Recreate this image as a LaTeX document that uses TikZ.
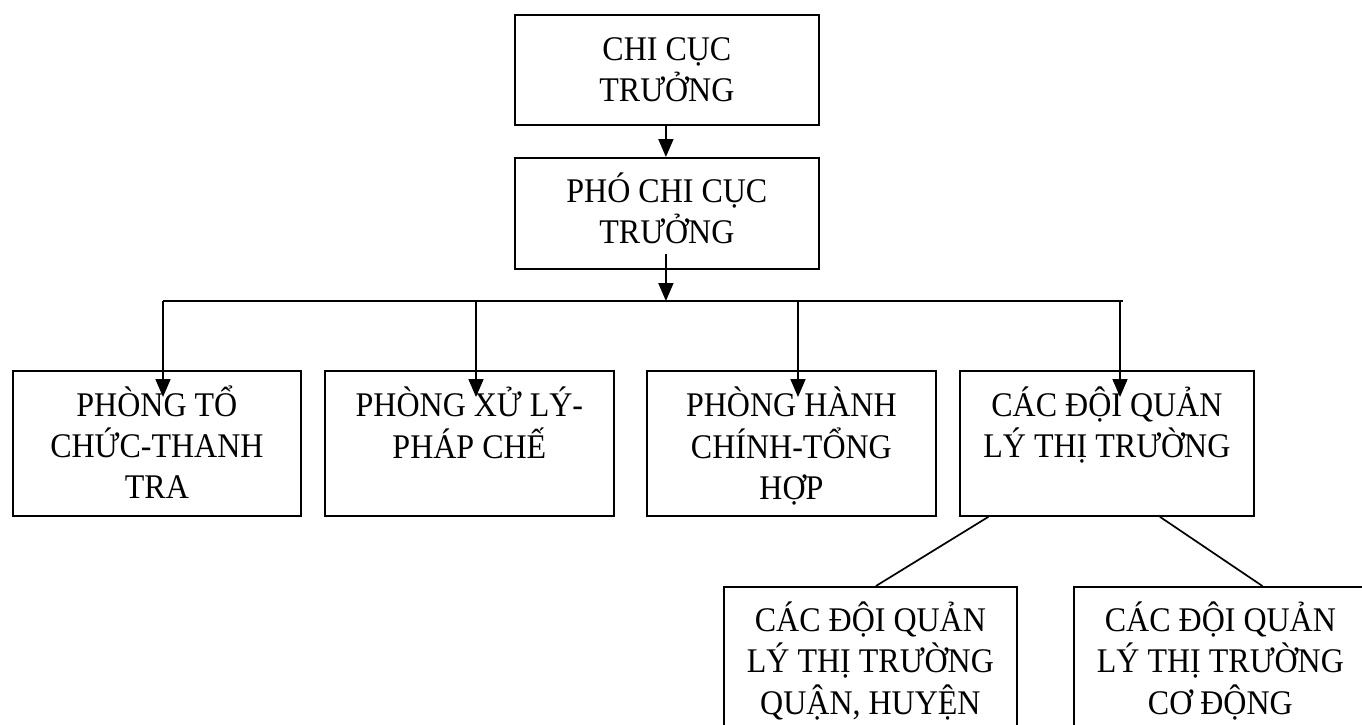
\documentclass[tikz,border=0pt]{standalone}
\usepackage{graphicx}
\usepackage{fontspec}
\setmainfont{Liberation Serif}
\usetikzlibrary{arrows.meta}
\newcommand\vtxt[1]{\scalebox{1}[1.08]{\begin{tabular}[t]{@{}c@{}}#1\end{tabular}}}
\begin{document}
\begin{tikzpicture}[x=1pt,y=1pt,
  orgbox/.style={draw, line width=1.8pt, inner sep=0pt, anchor=north west},
  boxtext/.style={anchor=base, inner sep=0pt,
    font=\fontsize{32}{37.7}\selectfont},
  conn/.style={line width=1.7pt},
  arr/.style={line width=1.7pt, -{Triangle[width=15pt,length=18pt]}}]
\useasboundingbox (0,0) rectangle (1362,-724);
\clip (0,0) rectangle (1362,-724);
% boxes
\node[orgbox, minimum width=304pt, minimum height=110pt] (b1) at (514,-14) {};
\node[orgbox, minimum width=304pt, minimum height=111pt] (b2) at (514,-157) {};
\node[orgbox, minimum width=288pt, minimum height=145pt] (ba) at (12,-370) {};
\node[orgbox, minimum width=289pt, minimum height=145pt] (bb) at (324,-370) {};
\node[orgbox, minimum width=289pt, minimum height=145pt] (bc) at (646,-370) {};
\node[orgbox, minimum width=294pt, minimum height=145pt] (bd) at (959,-370) {};
\node[orgbox, minimum width=293pt, minimum height=180pt] (be) at (723,-586) {};
\node[orgbox, minimum width=293pt, minimum height=180pt] (bf) at (1073,-586) {};
% texts
\node[boxtext] (t1) at ([yshift=-46pt]b1.north) {\vtxt{CHI CỤC\\TRƯỞNG}};
\node[boxtext] (t2) at ([yshift=-45pt]b2.north) {\vtxt{PHÓ CHI CỤC\\TRƯỞNG}};
\node[boxtext] (ta) at ([yshift=-46pt]ba.north) {\vtxt{PHÒNG TỔ\\CHỨC-THANH\\TRA}};
\node[boxtext] (tb) at ([yshift=-46pt]bb.north) {\vtxt{PHÒNG XỬ LÝ-\\PHÁP CHẾ}};
\node[boxtext] (tc) at ([yshift=-46pt]bc.north) {\vtxt{PHÒNG HÀNH\\CHÍNH-TỔNG\\HỢP}};
\node[boxtext] (td) at ([yshift=-46pt]bd.north) {\vtxt{CÁC ĐỘI QUẢN\\LÝ THỊ TRƯỜNG}};
\node[boxtext] (te) at ([yshift=-45pt]be.north) {\vtxt{CÁC ĐỘI QUẢN\\LÝ THỊ TRƯỜNG\\QUẬN, HUYỆN}};
\node[boxtext] (tf) at ([yshift=-45pt]bf.north) {\vtxt{CÁC ĐỘI QUẢN\\LÝ THỊ TRƯỜNG\\CƠ ĐỘNG}};
% bus line
\coordinate (hl) at (163,-301);
\coordinate (hr) at (1123,-301);
\coordinate (hb) at (476,-301);
\coordinate (hc) at (798,-301);
\coordinate (hd) at (1120,-301);
% connectors
\draw[arr] ([xshift=-1pt]b1.south) -- ([xshift=-1pt]b2.north);
\draw[arr] ([xshift=-1pt,yshift=16pt]b2.south) -- ([xshift=-1pt]b2.south |- hl);
\draw[conn] (hl) -- (hr);
\draw[arr] (hl) -- ([yshift=-27pt]hl |- ba.north);
\draw[arr] (hb) -- ([yshift=-27pt]hb |- bb.north);
\draw[arr] (hc) -- ([yshift=-27pt]hc |- bc.north);
\draw[arr] (hd) -- ([yshift=-27pt]hd |- bd.north);
\draw[conn] ([xshift=-118.5pt]bd.south) -- ([xshift=5.5pt]be.north);
\draw[conn] ([xshift=53pt]bd.south) -- ([xshift=42pt]bf.north);
\end{tikzpicture}
\end{document}
